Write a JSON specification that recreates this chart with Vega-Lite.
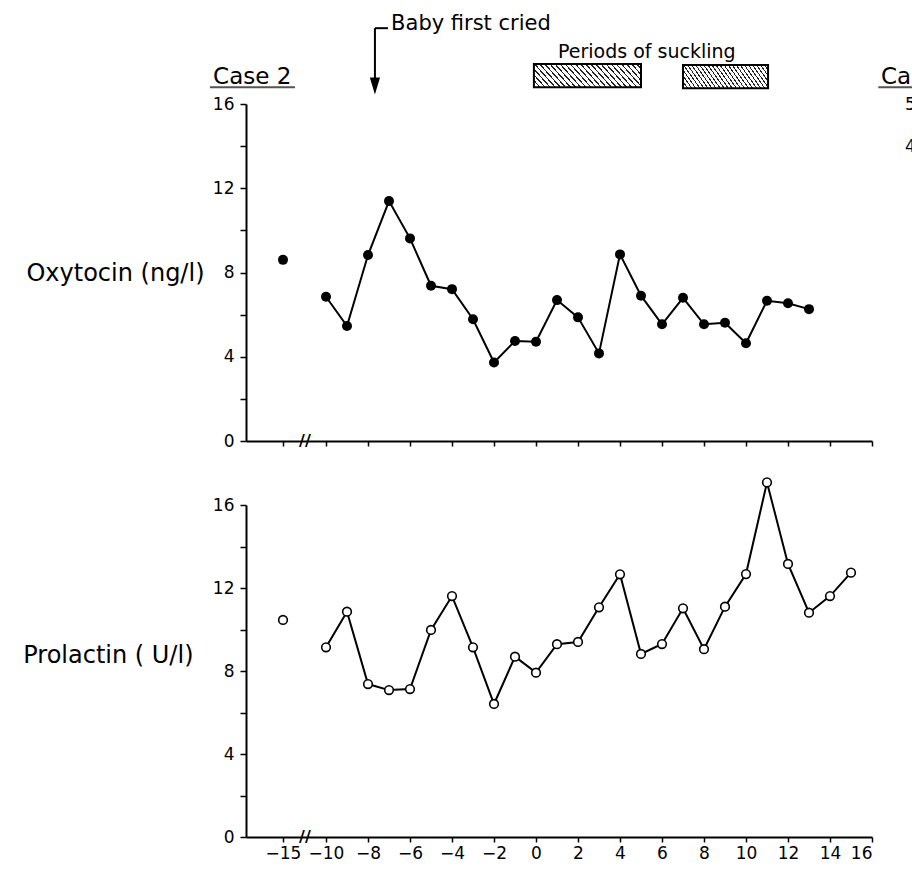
{
  "$schema": "https://vega.github.io/schema/vega-lite/v6.json",
  "background": "white",
  "padding": {"left": 22, "top": 13, "right": 0, "bottom": 0},
  "spacing": 64,
  "bounds": "flush",
  "config": {
    "view": {"stroke": null},
    "font": "DejaVu Sans",
    "axis": {
      "domainColor": "black", "domainWidth": 2, "tickColor": "black", "tickWidth": 1.5, "tickSize": 6,
      "labelColor": "black", "labelFont": "DejaVu Sans", "labelFontSize": 17, "labelPadding": 3,
      "grid": false, "titleColor": "black", "titleFont": "DejaVu Sans", "titleFontSize": 24, "titleFontWeight": "normal"
    }
  },
  "datasets": {
    "oxytocin": [
      {"t": -15, "v": 8.6, "seg": "a"},
      {"t": -10, "v": 6.85, "seg": "b"},
      {"t": -9, "v": 5.46, "seg": "b"},
      {"t": -8, "v": 8.83, "seg": "b"},
      {"t": -7, "v": 11.39, "seg": "b"},
      {"t": -6, "v": 9.62, "seg": "b"},
      {"t": -5, "v": 7.37, "seg": "b"},
      {"t": -4, "v": 7.21, "seg": "b"},
      {"t": -3, "v": 5.78, "seg": "b"},
      {"t": -2, "v": 3.73, "seg": "b"},
      {"t": -1, "v": 4.75, "seg": "b"},
      {"t": 0, "v": 4.71, "seg": "b"},
      {"t": 1, "v": 6.69, "seg": "b"},
      {"t": 2, "v": 5.87, "seg": "b"},
      {"t": 3, "v": 4.16, "seg": "b"},
      {"t": 4, "v": 8.86, "seg": "b"},
      {"t": 5, "v": 6.9, "seg": "b"},
      {"t": 6, "v": 5.54, "seg": "b"},
      {"t": 7, "v": 6.8, "seg": "b"},
      {"t": 8, "v": 5.54, "seg": "b"},
      {"t": 9, "v": 5.61, "seg": "b"},
      {"t": 10, "v": 4.64, "seg": "b"},
      {"t": 11, "v": 6.66, "seg": "b"},
      {"t": 12, "v": 6.54, "seg": "b"},
      {"t": 13, "v": 6.26, "seg": "b"}
    ],
    "prolactin": [
      {"t": -15, "v": 10.46, "seg": "a"},
      {"t": -10, "v": 9.14, "seg": "b"},
      {"t": -9, "v": 10.86, "seg": "b"},
      {"t": -8, "v": 7.37, "seg": "b"},
      {"t": -7, "v": 7.08, "seg": "b"},
      {"t": -6, "v": 7.13, "seg": "b"},
      {"t": -5, "v": 9.98, "seg": "b"},
      {"t": -4, "v": 11.61, "seg": "b"},
      {"t": -3, "v": 9.14, "seg": "b"},
      {"t": -2, "v": 6.41, "seg": "b"},
      {"t": -1, "v": 8.69, "seg": "b"},
      {"t": 0, "v": 7.92, "seg": "b"},
      {"t": 1, "v": 9.29, "seg": "b"},
      {"t": 2, "v": 9.4, "seg": "b"},
      {"t": 3, "v": 11.07, "seg": "b"},
      {"t": 4, "v": 12.66, "seg": "b"},
      {"t": 5, "v": 8.82, "seg": "b"},
      {"t": 6, "v": 9.3, "seg": "b"},
      {"t": 7, "v": 11.02, "seg": "b"},
      {"t": 8, "v": 9.05, "seg": "b"},
      {"t": 9, "v": 11.1, "seg": "b"},
      {"t": 10, "v": 12.67, "seg": "b"},
      {"t": 11, "v": 17.09, "seg": "b"},
      {"t": 12, "v": 13.16, "seg": "b"},
      {"t": 13, "v": 10.81, "seg": "b"},
      {"t": 14, "v": 11.61, "seg": "b"},
      {"t": 15, "v": 12.74, "seg": "b"}
    ],
    "suckling": [
      {"start": -0.1, "end": 5.0, "low": 16.8, "high": 17.9},
      {"start": 7.0, "end": 11.05, "low": 16.75, "high": 17.85}
    ],
    "notes": [
      {"id": "case", "text": "Case 2", "x": -18.78, "y": 16.94},
      {"id": "case", "text": "Case 3", "x": 16.43, "y": 16.94},
      {"id": "baby", "text": "Baby first cried", "x": -6.9, "y": 19.5},
      {"id": "suck", "text": "Periods of suckling", "x": 1.05, "y": 18.2},
      {"id": "c3", "text": "50", "x": 17.57, "y": 15.95},
      {"id": "c3", "text": "40", "x": 17.57, "y": 13.95}
    ],
    "underlines": [
      {"x": -18.95, "x2": -13.6, "y": 16.8, "y2": 16.8},
      {"x": 16.3, "x2": 18.6, "y": 16.8, "y2": 16.8}
    ],
    "hook": [
      {"x": -7.67, "x2": -7.05, "y": 19.6, "y2": 19.6},
      {"x": -7.67, "x2": -7.67, "y": 19.6, "y2": 17.2}
    ],
    "arrowhead": [{"x": -7.67, "y": 16.85}],
    "breaks": [{"x": -12.45, "y": 0}]
  },
  "vconcat": [
    {
      "width": 626,
      "height": 337,
      "layer": [
        {
          "data": {"name": "oxytocin"},
          "mark": {"type": "line", "color": "black", "strokeWidth": 2},
          "encoding": {
            "x": {"field": "t", "type": "quantitative",
              "scale": {"domain": [-17, -15, -10, 16], "range": [0, 37, 80, 626], "nice": false, "zero": false},
              "axis": {"title": null, "values": [-15, -10, -8, -6, -4, -2, 0, 2, 4, 6, 8, 10, 12, 14, 16], "labels": false, "tickSize": 5}},
            "y": {"field": "v", "type": "quantitative",
              "scale": {"domain": [0, 16], "nice": false, "zero": true},
              "axis": {"title": "Oxytocin (ng/l)", "titleAngle": 0, "titleAlign": "right", "titleBaseline": "middle", "titleX": -42, "titleY": 169, "labelPadding": 6,
                "values": [0, 2, 4, 6, 8, 10, 12, 14, 16], "labelExpr": "datum.value % 4 === 0 ? datum.label : ''"}},
            "detail": {"field": "seg"}
          }
        },
        {
          "data": {"name": "oxytocin"},
          "mark": {"type": "point", "filled": true, "color": "black", "size": 100, "opacity": 1},
          "encoding": {
            "x": {"field": "t", "type": "quantitative"},
            "y": {"field": "v", "type": "quantitative"}
          }
        },
        {
          "data": {"name": "suckling"},
          "mark": {"type": "rect", "stroke": "black", "strokeWidth": 2,
            "fill": {"gradient": "linear", "x1": 0, "y1": 1, "x2": 1.15, "y2": 0.78, "stops": [
              {"offset": 0, "color": "#222"}, {"offset": 0.012, "color": "#222"}, {"offset": 0.012, "color": "#fff"}, {"offset": 0.04, "color": "#fff"},
              {"offset": 0.04, "color": "#222"}, {"offset": 0.052, "color": "#222"}, {"offset": 0.052, "color": "#fff"}, {"offset": 0.08, "color": "#fff"},
              {"offset": 0.08, "color": "#222"}, {"offset": 0.092, "color": "#222"}, {"offset": 0.092, "color": "#fff"}, {"offset": 0.12, "color": "#fff"},
              {"offset": 0.12, "color": "#222"}, {"offset": 0.132, "color": "#222"}, {"offset": 0.132, "color": "#fff"}, {"offset": 0.16, "color": "#fff"},
              {"offset": 0.16, "color": "#222"}, {"offset": 0.172, "color": "#222"}, {"offset": 0.172, "color": "#fff"}, {"offset": 0.2, "color": "#fff"},
              {"offset": 0.2, "color": "#222"}, {"offset": 0.212, "color": "#222"}, {"offset": 0.212, "color": "#fff"}, {"offset": 0.24, "color": "#fff"},
              {"offset": 0.24, "color": "#222"}, {"offset": 0.252, "color": "#222"}, {"offset": 0.252, "color": "#fff"}, {"offset": 0.28, "color": "#fff"},
              {"offset": 0.28, "color": "#222"}, {"offset": 0.292, "color": "#222"}, {"offset": 0.292, "color": "#fff"}, {"offset": 0.32, "color": "#fff"},
              {"offset": 0.32, "color": "#222"}, {"offset": 0.332, "color": "#222"}, {"offset": 0.332, "color": "#fff"}, {"offset": 0.36, "color": "#fff"},
              {"offset": 0.36, "color": "#222"}, {"offset": 0.372, "color": "#222"}, {"offset": 0.372, "color": "#fff"}, {"offset": 0.4, "color": "#fff"},
              {"offset": 0.4, "color": "#222"}, {"offset": 0.412, "color": "#222"}, {"offset": 0.412, "color": "#fff"}, {"offset": 0.44, "color": "#fff"},
              {"offset": 0.44, "color": "#222"}, {"offset": 0.452, "color": "#222"}, {"offset": 0.452, "color": "#fff"}, {"offset": 0.48, "color": "#fff"},
              {"offset": 0.48, "color": "#222"}, {"offset": 0.492, "color": "#222"}, {"offset": 0.492, "color": "#fff"}, {"offset": 0.52, "color": "#fff"},
              {"offset": 0.52, "color": "#222"}, {"offset": 0.532, "color": "#222"}, {"offset": 0.532, "color": "#fff"}, {"offset": 0.56, "color": "#fff"},
              {"offset": 0.56, "color": "#222"}, {"offset": 0.572, "color": "#222"}, {"offset": 0.572, "color": "#fff"}, {"offset": 0.6, "color": "#fff"},
              {"offset": 0.6, "color": "#222"}, {"offset": 0.612, "color": "#222"}, {"offset": 0.612, "color": "#fff"}, {"offset": 0.64, "color": "#fff"},
              {"offset": 0.64, "color": "#222"}, {"offset": 0.652, "color": "#222"}, {"offset": 0.652, "color": "#fff"}, {"offset": 0.68, "color": "#fff"},
              {"offset": 0.68, "color": "#222"}, {"offset": 0.692, "color": "#222"}, {"offset": 0.692, "color": "#fff"}, {"offset": 0.72, "color": "#fff"},
              {"offset": 0.72, "color": "#222"}, {"offset": 0.732, "color": "#222"}, {"offset": 0.732, "color": "#fff"}, {"offset": 0.76, "color": "#fff"},
              {"offset": 0.76, "color": "#222"}, {"offset": 0.772, "color": "#222"}, {"offset": 0.772, "color": "#fff"}, {"offset": 0.8, "color": "#fff"},
              {"offset": 0.8, "color": "#222"}, {"offset": 0.812, "color": "#222"}, {"offset": 0.812, "color": "#fff"}, {"offset": 0.84, "color": "#fff"},
              {"offset": 0.84, "color": "#222"}, {"offset": 0.852, "color": "#222"}, {"offset": 0.852, "color": "#fff"}, {"offset": 0.88, "color": "#fff"},
              {"offset": 0.88, "color": "#222"}, {"offset": 0.892, "color": "#222"}, {"offset": 0.892, "color": "#fff"}, {"offset": 0.92, "color": "#fff"},
              {"offset": 0.92, "color": "#222"}, {"offset": 0.932, "color": "#222"}, {"offset": 0.932, "color": "#fff"}, {"offset": 0.96, "color": "#fff"},
              {"offset": 0.96, "color": "#222"}, {"offset": 0.972, "color": "#222"}, {"offset": 0.972, "color": "#fff"}, {"offset": 1, "color": "#fff"}
            ]}},
          "encoding": {
            "x": {"field": "start", "type": "quantitative"},
            "x2": {"field": "end"},
            "y": {"field": "low", "type": "quantitative"},
            "y2": {"field": "high"}
          }
        },
        {
          "data": {"name": "notes"},
          "transform": [{"filter": "datum.id === 'case'"}],
          "mark": {"type": "text", "align": "left", "baseline": "alphabetic", "fontSize": 23, "color": "black"},
          "encoding": {
            "x": {"field": "x", "type": "quantitative"},
            "y": {"field": "y", "type": "quantitative"},
            "text": {"field": "text"}
          }
        },
        {
          "data": {"name": "notes"},
          "transform": [{"filter": "datum.id === 'baby'"}],
          "mark": {"type": "text", "align": "left", "baseline": "alphabetic", "fontSize": 21, "color": "black"},
          "encoding": {
            "x": {"field": "x", "type": "quantitative"},
            "y": {"field": "y", "type": "quantitative"},
            "text": {"field": "text"}
          }
        },
        {
          "data": {"name": "notes"},
          "transform": [{"filter": "datum.id === 'suck'"}],
          "mark": {"type": "text", "align": "left", "baseline": "alphabetic", "fontSize": 19, "color": "black"},
          "encoding": {
            "x": {"field": "x", "type": "quantitative"},
            "y": {"field": "y", "type": "quantitative"},
            "text": {"field": "text"}
          }
        },
        {
          "data": {"name": "notes"},
          "transform": [{"filter": "datum.id === 'c3'"}],
          "mark": {"type": "text", "align": "left", "baseline": "middle", "fontSize": 17, "color": "black"},
          "encoding": {
            "x": {"field": "x", "type": "quantitative"},
            "y": {"field": "y", "type": "quantitative"},
            "text": {"field": "text"}
          }
        },
        {
          "data": {"name": "underlines"},
          "mark": {"type": "rule", "color": "#555", "strokeWidth": 2},
          "encoding": {
            "x": {"field": "x", "type": "quantitative"},
            "x2": {"field": "x2"},
            "y": {"field": "y", "type": "quantitative"},
            "y2": {"field": "y2"}
          }
        },
        {
          "data": {"name": "hook"},
          "mark": {"type": "rule", "color": "black", "strokeWidth": 2},
          "encoding": {
            "x": {"field": "x", "type": "quantitative"},
            "x2": {"field": "x2"},
            "y": {"field": "y", "type": "quantitative"},
            "y2": {"field": "y2"}
          }
        },
        {
          "data": {"name": "arrowhead"},
          "mark": {"type": "point", "shape": "M-0.6,-1L0.6,-1L0,1Z", "filled": true, "color": "black", "size": 290, "opacity": 1},
          "encoding": {
            "x": {"field": "x", "type": "quantitative"},
            "y": {"field": "y", "type": "quantitative"}
          }
        },
        {
          "data": {"name": "breaks"},
          "mark": {"type": "text", "text": "//", "fontSize": 16, "fontWeight": "bold", "color": "black", "align": "center", "baseline": "middle"},
          "encoding": {
            "x": {"field": "x", "type": "quantitative"},
            "y": {"field": "y", "type": "quantitative"}
          }
        }
      ]
    },
    {
      "width": 626,
      "height": 332,
      "layer": [
        {
          "data": {"name": "prolactin"},
          "mark": {"type": "line", "color": "black", "strokeWidth": 2},
          "encoding": {
            "x": {"field": "t", "type": "quantitative",
              "scale": {"domain": [-17, -15, -10, 16], "range": [0, 37, 80, 626], "nice": false, "zero": false},
              "axis": {"title": null, "values": [-15, -10, -8, -6, -4, -2, 0, 2, 4, 6, 8, 10, 12, 14, 16], "tickSize": 5, "labelPadding": 3}},
            "y": {"field": "v", "type": "quantitative",
              "scale": {"domain": [0, 16], "nice": false, "zero": true},
              "axis": {"title": "Prolactin ( U/l)", "titleAngle": 0, "titleAlign": "right", "titleBaseline": "middle", "titleX": -53, "titleY": 150, "labelPadding": 6,
                "values": [0, 2, 4, 6, 8, 10, 12, 14, 16], "labelExpr": "datum.value % 4 === 0 ? datum.label : ''"}},
            "detail": {"field": "seg"}
          }
        },
        {
          "data": {"name": "prolactin"},
          "mark": {"type": "point", "filled": true, "fill": "white", "stroke": "black", "strokeWidth": 1.6, "size": 75, "opacity": 1},
          "encoding": {
            "x": {"field": "t", "type": "quantitative"},
            "y": {"field": "v", "type": "quantitative"}
          }
        },
        {
          "data": {"name": "breaks"},
          "mark": {"type": "text", "text": "//", "fontSize": 16, "fontWeight": "bold", "color": "black", "align": "center", "baseline": "middle"},
          "encoding": {
            "x": {"field": "x", "type": "quantitative"},
            "y": {"field": "y", "type": "quantitative"}
          }
        }
      ]
    }
  ]
}
